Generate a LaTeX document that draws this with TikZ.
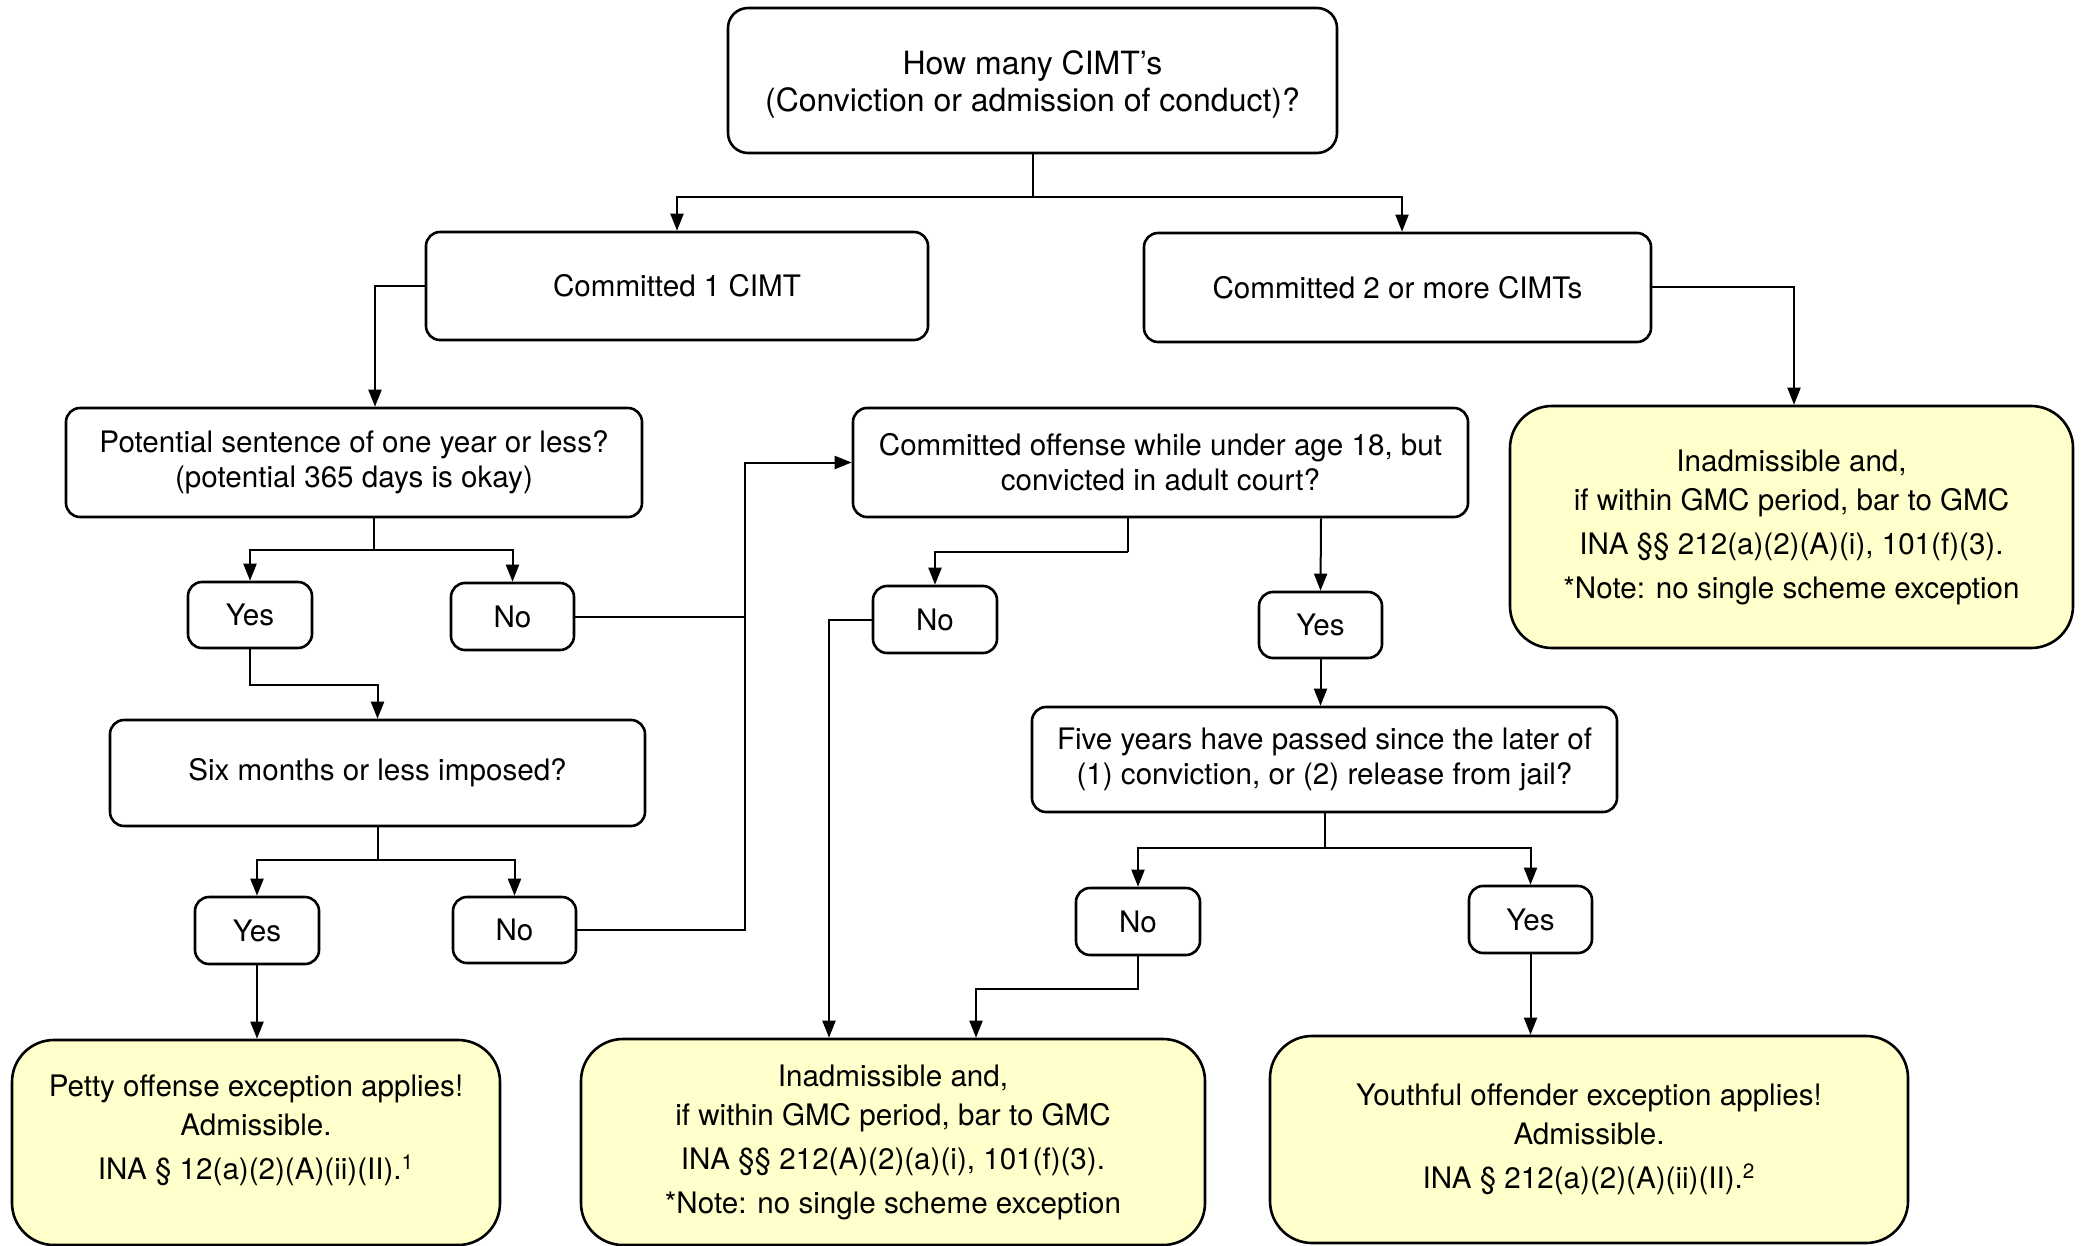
\documentclass[tikz,border=0pt]{standalone}
\usepackage{fontspec}
\setmainfont{TeX Gyre Heros}
\usetikzlibrary{arrows.meta,calc}
\definecolor{notefill}{RGB}{255,255,204}

\begin{document}
\begin{tikzpicture}[x=0.5pt,y=-0.5pt,
  font=\fontsize{14.8}{17.5}\selectfont,
  q/.style={draw=black, line width=1.3pt, rounded corners=7pt, fill=white,
            align=center, inner sep=0pt},
  sz/.style 2 args={minimum width=#1*0.5pt, minimum height=#2*0.5pt},
  res/.style={q, fill=notefill, rounded corners=21pt,
              font=\fontsize{14.8}{19.5}\selectfont},
  arr/.style={-{Triangle[length=8.5pt,width=6.5pt]}, line width=1pt},
  ln/.style={line width=1pt}]
\useasboundingbox (0,0) rectangle (2082,1246);

% question boxes
\node[q, rounded corners=10pt, sz={609}{145}, font=\fontsize{16}{18.5}\selectfont]
  (top) at (1032.5,80.5)
  {\rule{0pt}{16pt}How many CIMT’s\\(Conviction or admission of conduct)?};
\node[q, sz={502}{108}] (c1) at (677,286) {Committed 1 CIMT};
\node[q, sz={507}{109}] (c2) at (1397.5,287.5) {Committed 2 or more CIMTs};
\node[q, sz={576}{109}] (pot) at (354,462.5)
  {Potential sentence of one year or less?\\(potential 365 days is okay)};
\node[q, sz={124}{66}] (yes1) at (250,615) {Yes};
\node[q, sz={123}{67}] (no1) at (512.5,616.5) {No};
\node[q, sz={535}{106}] (six) at (377.5,773) {Six months or less imposed?};
\node[q, sz={124}{67}] (yes2) at (257,930.5) {Yes};
\node[q, sz={123}{66}] (no2) at (514.5,930) {No};
\node[q, sz={615}{109}] (co) at (1160.5,462.5)
  {Committed offense while under age 18, but\\convicted in adult court?};
\node[q, sz={124}{67}] (no3) at (935,619.5) {No};
\node[q, sz={123}{66}] (yes3) at (1320.5,625) {Yes};
\node[q, sz={585}{105}] (five) at (1324.5,759.5)
  {Five years have passed since the later of\\(1) conviction, or (2) release from jail?};
\node[q, sz={124}{67}] (no4) at (1138,921.5) {No};
\node[q, sz={123}{67}] (yes4) at (1530.5,919.5) {Yes};

% outcome boxes
\node[res, sz={488}{205}] (petty) at (256,1142.5)
  {Petty offense exception applies!\\Admissible.\\[2.5pt]INA § 12(a)(2)(A)(ii)(II).\textsuperscript{1}\rule[-15pt]{0pt}{0pt}};
\node[res, sz={624}{206}] (inad) at (893,1142)
  {Inadmissible and,\\if within GMC period, bar to GMC\\[2.5pt]INA §§ 212(A)(2)(a)(i), 101(f)(3).\\[2.5pt]{}*Note: no single scheme exception};
\node[res, sz={638}{207}] (youth) at (1589,1139.5)
  {Youthful offender exception applies!\\Admissible.\\[2.5pt]INA § 212(a)(2)(A)(ii)(II).\textsuperscript{2}};
\node[res, sz={563}{242}] (inadr) at (1791.5,527)
  {Inadmissible and,\\if within GMC period, bar to GMC\\[2.5pt]INA §§ 212(a)(2)(A)(i), 101(f)(3).\\[2.5pt]{}*Note: no single scheme exception};

% connectors
\draw[ln] (top.south) -- ++(0,43) coordinate (s0);
\draw[arr] (s0) -| (c1.north);
\draw[arr] (s0) -| ($(c2.north)+(4.5,0)$);
\draw[arr] (c1.west) -| ($(pot.north)+(21,0)$);
\draw[arr] (c2.east) -| ($(inadr.north)+(2.5,0)$);

\draw[ln] ($(pot.south)+(20,0)$) -- ++(0,32) coordinate (s1);
\draw[arr] (s1) -| (yes1.north);
\draw[arr] (s1) -| (no1.north);
\draw[arr] (yes1.south) -- ++(0,36) -| (six.north);

\draw[ln] (six.south) -- ++(0,33) coordinate (s2);
\draw[arr] (s2) -| (yes2.north);
\draw[arr] (s2) -| (no2.north);
\draw[arr] (yes2.south) -- (yes2.south |- petty.north);

\coordinate (jn) at (745,462.5);
\draw[ln] (no1.east) -- (no1.east -| jn);
\draw[arr] (no2.east) -| (jn) -- (co.west);

\draw[ln] ($(co.south)+(-32.5,0)$) -- ++(0,34) coordinate (s3);
\draw[arr] (s3) -| (no3.north);
\draw[arr] ($(co.south)+(160.5,0)$) -- (yes3.north);
\draw[arr] (no3.west) -| ($(inad.north)+(-64,0)$);
\draw[arr] (yes3.south) -- (yes3.south |- five.north);

\draw[ln] (five.south) -- ++(0,35) coordinate (s4);
\draw[arr] (s4) -| (no4.north);
\draw[arr] (s4) -| (yes4.north);
\draw[arr] (no4.south) -- ++(0,33) -| ($(inad.north)+(83,0)$);
\draw[arr] (yes4.south) -- (yes4.south |- youth.north);
\end{tikzpicture}
\end{document}
